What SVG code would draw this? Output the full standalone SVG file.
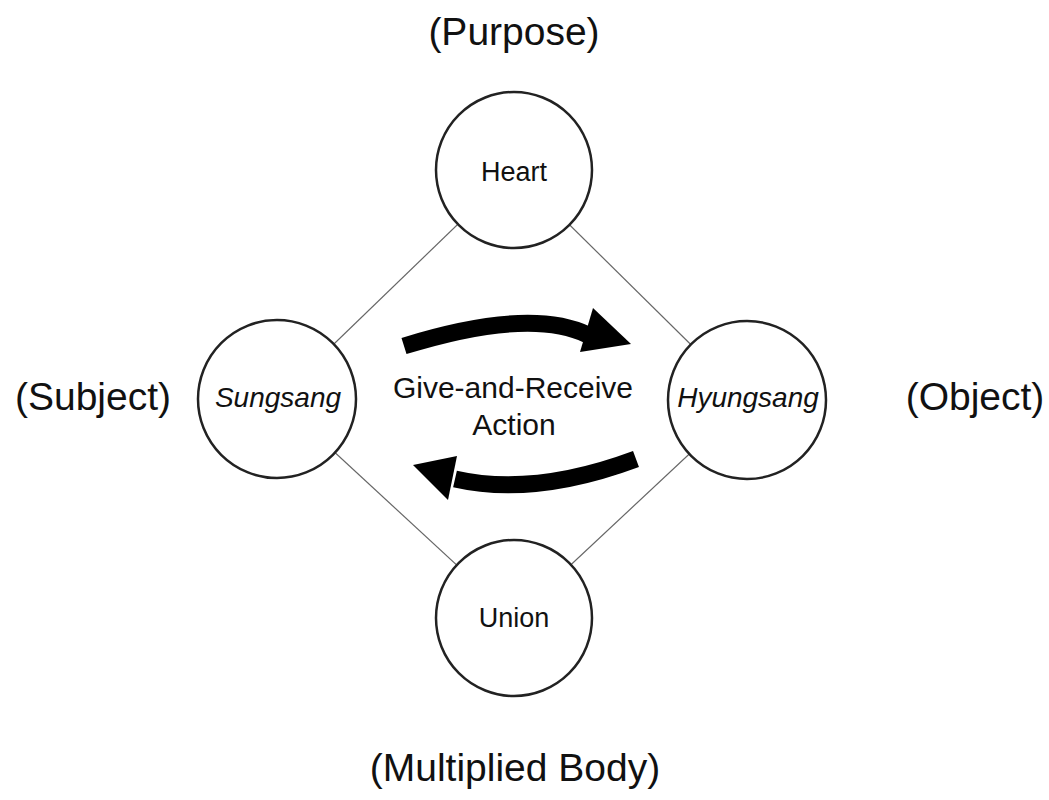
<svg xmlns="http://www.w3.org/2000/svg" width="1049" height="800" viewBox="0 0 1049 800">
<style>
.lbl{font-family:"Liberation Sans",Arial,sans-serif;fill:#111;text-anchor:middle}
.outer{font-size:39px}
.inner{font-size:27px}
.it{font-style:italic;font-size:28px}
.node{fill:#fff;stroke:#222;stroke-width:2.5}
.link{stroke:#666;stroke-width:1.2;fill:none}
.body{fill:none;stroke:#000;stroke-width:17}
</style>
<rect width="1049" height="800" fill="#fff"/>
<g id="connectors">
<line class="link" x1="514" y1="170" x2="277" y2="399"/>
<line class="link" x1="514" y1="170" x2="747" y2="400"/>
<line class="link" x1="277" y1="399" x2="514" y2="618"/>
<line class="link" x1="747" y1="400" x2="514" y2="618"/>
</g>
<g id="heart"><circle class="node" cx="514" cy="170" r="78"/><text class="lbl inner" x="514" y="181">Heart</text></g>
<g id="union"><circle class="node" cx="514" cy="618" r="78"/><text class="lbl inner" x="514" y="627">Union</text></g>
<g id="sungsang"><circle class="node" cx="277" cy="399" r="79"/><text class="lbl it" x="278" y="407">Sungsang</text></g>
<g id="hyungsang"><circle class="node" cx="747" cy="400" r="79"/><text class="lbl it" x="748" y="407">Hyungsang</text></g>
<g id="arrow-top">
<path class="body" d="M404,346 Q530,307 588,335"/>
<polygon points="593,308 631,344 580,352" fill="#000"/>
</g>
<g id="arrow-bottom">
<path class="body" d="M636,459 Q534,497 455,479"/>
<polygon points="457,456 413,465 448,500" fill="#000"/>
</g>
<g id="center-label">
<text class="lbl" font-size="30" x="513" y="398">Give-and-Receive</text>
<text class="lbl" font-size="30" x="514" y="435">Action</text>
</g>
<g id="outer-labels">
<text class="lbl outer" x="514" y="45">(Purpose)</text>
<text class="lbl outer" x="93" y="410">(Subject)</text>
<text class="lbl outer" x="975" y="410">(Object)</text>
<text class="lbl outer" x="515" y="781">(Multiplied Body)</text>
</g>
</svg>
